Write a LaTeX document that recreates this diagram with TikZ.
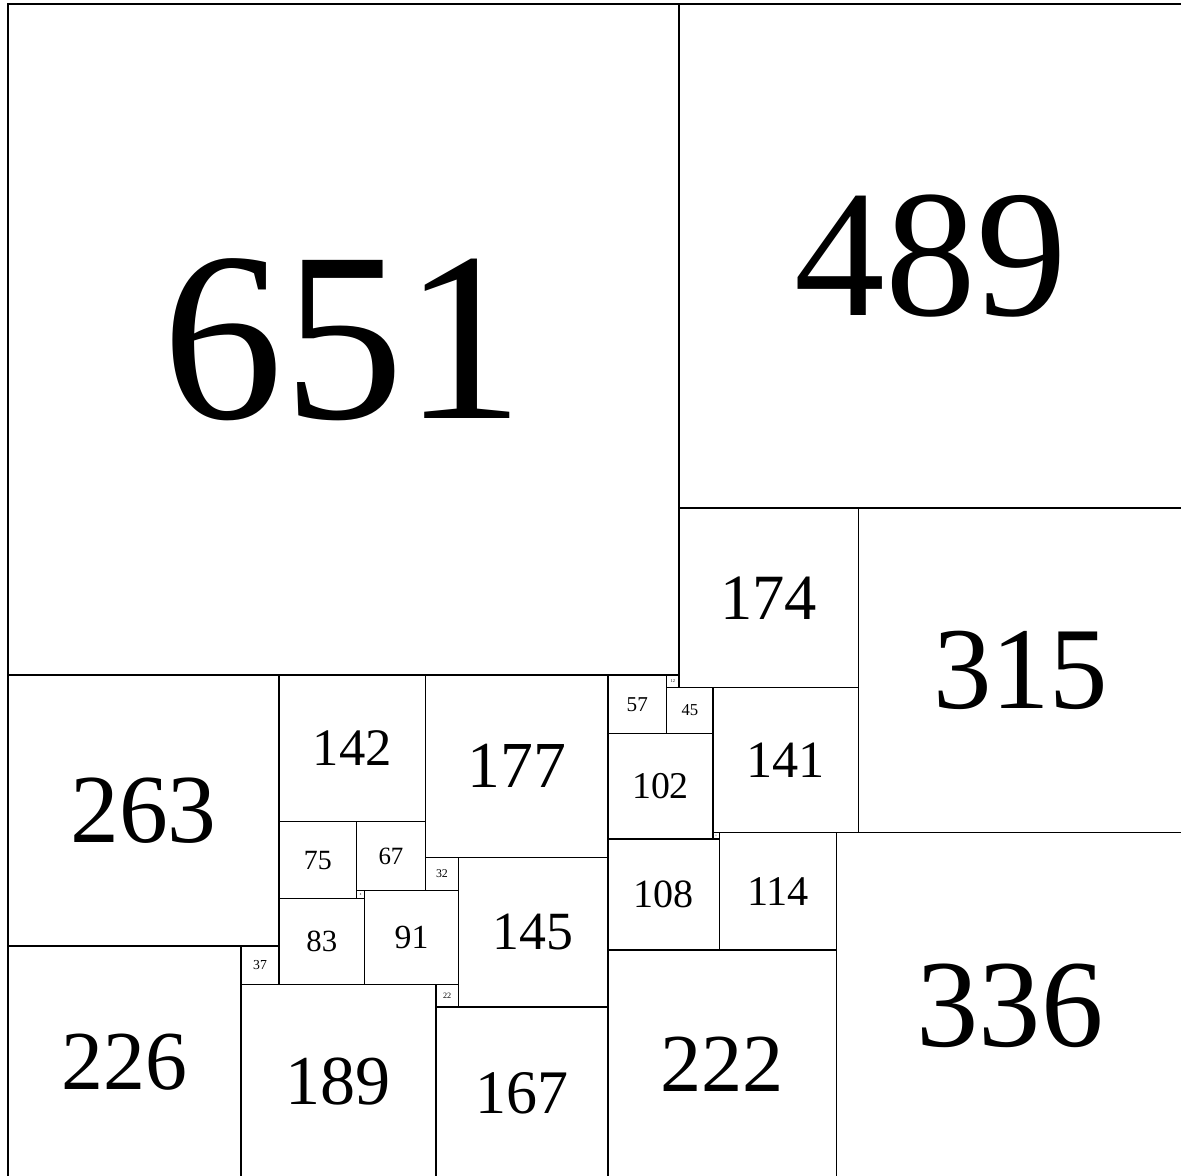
\documentclass[tikz,border=0pt]{standalone}
\usepackage{fontspec}
\setmainfont{Liberation Serif}
\tikzset{
  tile/.style={
    draw=black,
    line width=0.4pt,
    inner sep=0pt,
    outer sep=0pt,
    anchor=north west,
    minimum size=#1*0.1mm
  }
}

\begin{document}
\begin{tikzpicture}[x=0.1mm, y=0.1mm]
  \useasboundingbox (-7.8,3.9) rectangle (1138,-1136.1);
  % left x / top y / side, y counted downwards
  \foreach \x/\y/\s in {0/0/651, 651/0/489, 825/489/315, 651/489/174,
      804/804/336, 0/651/263, 0/914/226, 226/951/189, 226/914/37,
      263/651/142, 405/651/177, 263/793/75, 338/793/67, 263/868/83,
      338/860/8, 346/860/91, 405/828/32, 437/828/145, 415/951/22,
      415/973/167, 582/918/222, 582/651/57, 639/651/12, 639/663/45,
      684/663/141, 582/708/102, 684/804/6, 582/810/108, 690/804/114} {
    \pgfmathsetmacro{\fs}{0.36*\s*0.2845}
    \node[tile=\s, font=\fontsize{\fs pt}{\fs pt}\selectfont]
      (t\s) at (\x,-\y) {\s};
  }
\end{tikzpicture}
\end{document}
